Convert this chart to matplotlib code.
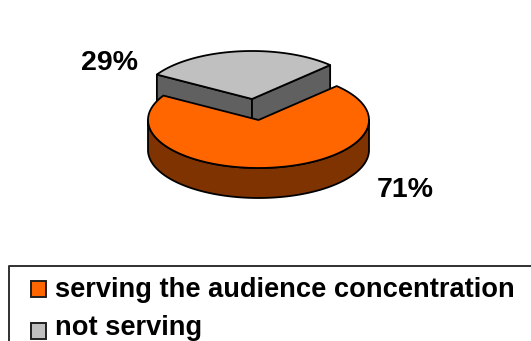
import numpy as np
import matplotlib.pyplot as plt
from matplotlib.patches import Polygon, Rectangle

categories = ["serving the audience concentration", "not serving"]
shares = [71, 29]
pct_labels = ["71%", "29%"]

ORANGE = "#ff6600"
ORANGE_DARK = "#7f3300"
GRAY = "#c0c0c0"
GRAY_DARK = "#606060"

W, H = 531, 341
RX, RY = 110.5, 48
DEPTH = 30

plt.rcParams["font.family"] = ["Liberation Sans", "DejaVu Sans"]

fig = plt.figure(figsize=(W / 100, H / 100), dpi=100)
ax = fig.add_axes([0, 0, 1, 1])
ax.set_xlim(0, W)
ax.set_ylim(H, 0)
ax.axis("off")


def rim(cx, cy, a0, a1):
    # points along the elliptical edge, angles in degrees counter-clockwise
    t = np.radians(np.linspace(a0, a1, 200))
    return np.column_stack([cx + RX * np.cos(t), cy - RY * np.sin(t)])


def poly(pts, color, z):
    ax.add_patch(Polygon(pts, closed=True, facecolor=color, edgecolor="black",
                         linewidth=1.3, joinstyle="round", zorder=z))


# slice angles come from the shares
gray_start = 45.0
gray_end = gray_start + shares[1] / sum(shares) * 360
orange_end = gray_end + shares[0] / sum(shares) * 360

# gray slice, pulled out to the upper left
gx, gy = 252, 99
edge_a = rim(gx, gy, gray_start, gray_start)[0]
edge_b = rim(gx, gy, gray_end, gray_end)[0]
down = np.array([0, DEPTH])
poly([edge_b, (gx, gy), (gx, gy) + down, edge_b + down], GRAY_DARK, 1)
poly([edge_a, (gx, gy), (gx, gy) + down, edge_a + down], GRAY_DARK, 1)
poly(np.vstack([[(gx, gy)], rim(gx, gy, gray_start, gray_end)]), GRAY, 2)

# orange slice: wall along the front of the rim, then the top face
ox, oy = 258.5, 120
front = rim(ox, oy, 180, 360)
poly(np.vstack([front, (front + down)[::-1]]), ORANGE_DARK, 3)
poly(np.vstack([[(ox, oy)], rim(ox, oy, gray_end, orange_end)]), ORANGE, 4)

# percentage labels
ax.text(110, 63, pct_labels[1], fontsize=20.5, fontweight="bold",
        ha="center", va="center", color="black", zorder=5)
ax.text(405, 190, pct_labels[0], fontsize=20.5, fontweight="bold",
        ha="center", va="center", color="black", zorder=5)

# legend frame runs off the right and bottom edges
ax.plot([W + 5, 8.5, 8.5], [265.5, 265.5, H + 5], color="#303030", linewidth=1.4,
        clip_on=True, zorder=5)

swatch_y = [281, 323]
baseline_y = [297, 335]
swatch_colors = [ORANGE, GRAY]
for label, sy, by, col in zip(categories, swatch_y, baseline_y, swatch_colors):
    ax.add_patch(Rectangle((30.5, sy), 15.5, 15.5, facecolor=col,
                           edgecolor="#202020", linewidth=1.4, zorder=5))
    ax.text(55, by, label, fontsize=19.6, fontweight="bold", ha="left",
            va="baseline", color="black", zorder=5)

fig.savefig("out.png", dpi=100, facecolor="white")
